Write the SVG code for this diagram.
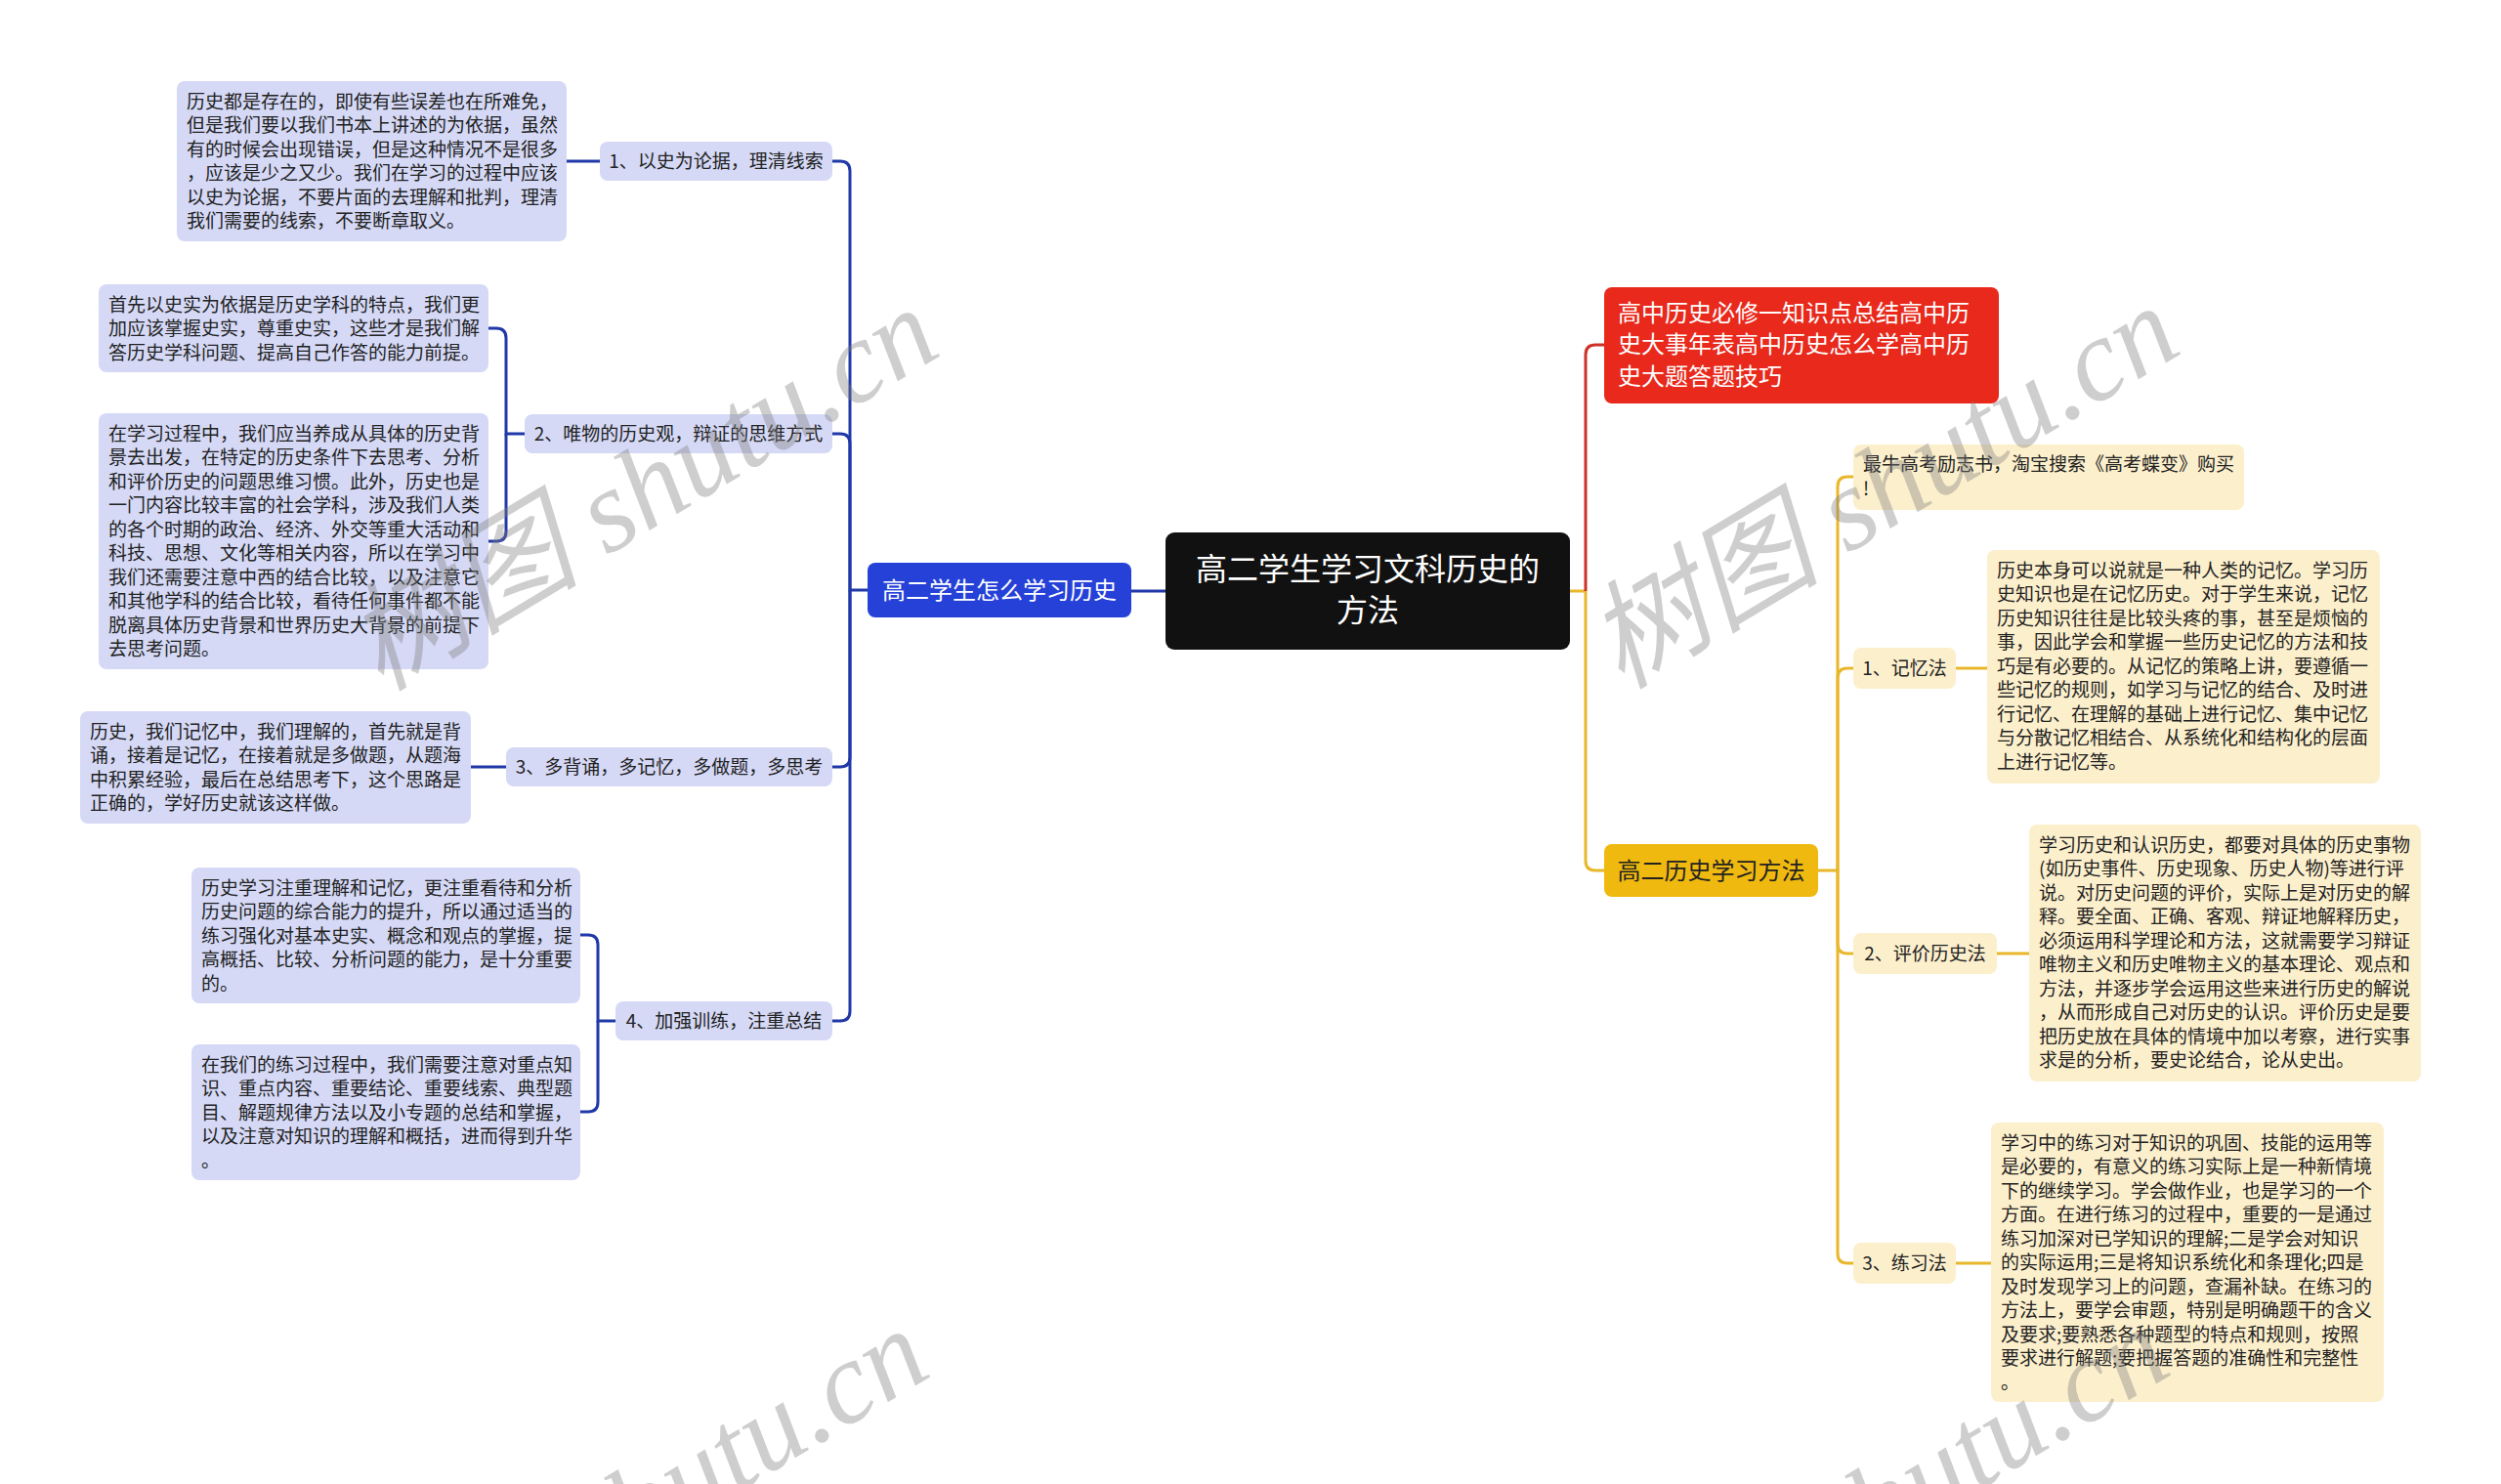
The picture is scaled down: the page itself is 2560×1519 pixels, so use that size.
<svg xmlns="http://www.w3.org/2000/svg" width="2560" height="1519" viewBox="0 0 2560 1519">
<style>
text{font-family:"Noto Sans CJK SC","Noto Sans",sans-serif;}
.lv{fill:#d5d9f6;}
.cr{fill:#fcefcc;}
.t19{font-size:19px;fill:#222;}
.mid{text-anchor:middle;}
.bl{fill:none;stroke:#2038a8;stroke-width:3;}
.yl{fill:none;stroke:#e9b72b;stroke-width:3;}
.rd{fill:none;stroke:#cc3226;stroke-width:3;}
.wm{font-family:"Liberation Serif","Noto Sans CJK SC",serif;font-style:italic;font-size:120px;fill:#808080;opacity:0.38;text-anchor:middle;}
</style>
<rect width="2560" height="1519" fill="#ffffff"/>

<g id="connectors">
  <path class="bl" d="M1193,605 H1158"/>
  <path class="bl" d="M888,604 H870 V175 Q870,165 860,165 H852"/>
  <path class="bl" d="M870,604 V454 Q870,444 860,444 H852"/>
  <path class="bl" d="M870,604 V775 Q870,785 860,785 H852"/>
  <path class="bl" d="M870,604 V1035 Q870,1045 860,1045 H852"/>
  <path class="bl" d="M614,165 H580"/>
  <path class="bl" d="M537,444 H518 V346 Q518,336 508,336 H500"/>
  <path class="bl" d="M518,444 V544 Q518,554 508,554 H500"/>
  <path class="bl" d="M518,785 H482"/>
  <path class="bl" d="M630,1045 H612 V967 Q612,957 602,957 H594"/>
  <path class="bl" d="M612,1045 V1128 Q612,1138 602,1138 H594"/>
  <path class="yl" d="M1607,605 H1623"/>
  <path class="rd" d="M1623,605 V363 Q1623,353 1633,353 H1642"/>
  <path class="yl" d="M1623,605 V881 Q1623,891 1633,891 H1642"/>
  <path class="yl" d="M1861,891 H1881 V498 Q1881,488 1891,488 H1897"/>
  <path class="yl" d="M1881,891 V694 Q1881,684 1891,684 H1897"/>
  <path class="yl" d="M1881,891 V966 Q1881,976 1891,976 H1897"/>
  <path class="yl" d="M1881,891 V1283 Q1881,1293 1891,1293 H1897"/>
  <path class="yl" d="M2002,684 H2034"/>
  <path class="yl" d="M2044,976 H2077"/>
  <path class="yl" d="M2002,1293 H2038"/>
</g>

<g id="central">
  <rect x="1193" y="545" width="414" height="120" rx="9" fill="#111111"/>
  <text x="1400" y="594" class="mid" font-size="32" fill="#ffffff">高二学生学习文科历史的</text>
  <text x="1400" y="636" class="mid" font-size="32" fill="#ffffff">方法</text>
</g>

<g id="branch-left">
  <rect x="888" y="576" width="270" height="56" rx="8" fill="#2541d8"/>
  <text x="1023" y="612.5" class="mid" font-size="24" fill="#ffffff">高二学生怎么学习历史</text>
</g>

<g id="sub-l1">
  <rect class="lv" x="614" y="145" width="238" height="40" rx="8"/>
  <text x="733" y="172" class="t19 mid">1、以史为论据，理清线索</text>
</g>
<g id="sub-l2">
  <rect class="lv" x="537" y="424" width="315" height="40" rx="8"/>
  <text x="694.5" y="451" class="t19 mid">2、唯物的历史观，辩证的思维方式</text>
</g>
<g id="sub-l3">
  <rect class="lv" x="518" y="765" width="334" height="40" rx="8"/>
  <text x="685" y="792" class="t19 mid">3、多背诵，多记忆，多做题，多思考</text>
</g>
<g id="sub-l4">
  <rect class="lv" x="630" y="1025" width="222" height="40" rx="8"/>
  <text x="741" y="1052" class="t19 mid">4、加强训练，注重总结</text>
</g>

<g id="leaf-l1">
  <rect class="lv" x="181" y="83" width="399" height="164" rx="8"/>
  <text class="t19" x="191" y="110.5">
    <tspan x="191">历史都是存在的，即使有些误差也在所难免，</tspan>
    <tspan x="191" dy="24.5">但是我们要以我们书本上讲述的为依据，虽然</tspan>
    <tspan x="191" dy="24.5">有的时候会出现错误，但是这种情况不是很多</tspan>
    <tspan x="191" dy="24.5">，应该是少之又少。我们在学习的过程中应该</tspan>
    <tspan x="191" dy="24.5">以史为论据，不要片面的去理解和批判，理清</tspan>
    <tspan x="191" dy="24.5">我们需要的线索，不要断章取义。</tspan>
  </text>
</g>
<g id="leaf-l2a">
  <rect class="lv" x="101" y="291" width="399" height="90" rx="8"/>
  <text class="t19" x="111" y="318.5">
    <tspan x="111">首先以史实为依据是历史学科的特点，我们更</tspan>
    <tspan x="111" dy="24.5">加应该掌握史实，尊重史实，这些才是我们解</tspan>
    <tspan x="111" dy="24.5">答历史学科问题、提高自己作答的能力前提。</tspan>
  </text>
</g>
<g id="leaf-l2b">
  <rect class="lv" x="101" y="423" width="399" height="262" rx="8"/>
  <text class="t19" x="111" y="450.5">
    <tspan x="111">在学习过程中，我们应当养成从具体的历史背</tspan>
    <tspan x="111" dy="24.5">景去出发，在特定的历史条件下去思考、分析</tspan>
    <tspan x="111" dy="24.5">和评价历史的问题思维习惯。此外，历史也是</tspan>
    <tspan x="111" dy="24.5">一门内容比较丰富的社会学科，涉及我们人类</tspan>
    <tspan x="111" dy="24.5">的各个时期的政治、经济、外交等重大活动和</tspan>
    <tspan x="111" dy="24.5">科技、思想、文化等相关内容，所以在学习中</tspan>
    <tspan x="111" dy="24.5">我们还需要注意中西的结合比较，以及注意它</tspan>
    <tspan x="111" dy="24.5">和其他学科的结合比较，看待任何事件都不能</tspan>
    <tspan x="111" dy="24.5">脱离具体历史背景和世界历史大背景的前提下</tspan>
    <tspan x="111" dy="24.5">去思考问题。</tspan>
  </text>
</g>
<g id="leaf-l3">
  <rect class="lv" x="82" y="728" width="400" height="115" rx="8"/>
  <text class="t19" x="92" y="755.5">
    <tspan x="92">历史，我们记忆中，我们理解的，首先就是背</tspan>
    <tspan x="92" dy="24.5">诵，接着是记忆，在接着就是多做题，从题海</tspan>
    <tspan x="92" dy="24.5">中积累经验，最后在总结思考下，这个思路是</tspan>
    <tspan x="92" dy="24.5">正确的，学好历史就该这样做。</tspan>
  </text>
</g>
<g id="leaf-l4a">
  <rect class="lv" x="196" y="888" width="398" height="139" rx="8"/>
  <text class="t19" x="206" y="915.5">
    <tspan x="206">历史学习注重理解和记忆，更注重看待和分析</tspan>
    <tspan x="206" dy="24.5">历史问题的综合能力的提升，所以通过适当的</tspan>
    <tspan x="206" dy="24.5">练习强化对基本史实、概念和观点的掌握，提</tspan>
    <tspan x="206" dy="24.5">高概括、比较、分析问题的能力，是十分重要</tspan>
    <tspan x="206" dy="24.5">的。</tspan>
  </text>
</g>
<g id="leaf-l4b">
  <rect class="lv" x="196" y="1069" width="398" height="139" rx="8"/>
  <text class="t19" x="206" y="1096.5">
    <tspan x="206">在我们的练习过程中，我们需要注意对重点知</tspan>
    <tspan x="206" dy="24.5">识、重点内容、重要结论、重要线索、典型题</tspan>
    <tspan x="206" dy="24.5">目、解题规律方法以及小专题的总结和掌握，</tspan>
    <tspan x="206" dy="24.5">以及注意对知识的理解和概括，进而得到升华</tspan>
    <tspan x="206" dy="24.5">。</tspan>
  </text>
</g>

<g id="branch-red">
  <rect x="1642" y="294" width="404" height="119" rx="8" fill="#e8291c"/>
  <text x="1656" y="328.5" font-size="24" fill="#ffffff">
    <tspan x="1656">高中历史必修一知识点总结高中历</tspan>
    <tspan x="1656" dy="32.5">史大事年表高中历史怎么学高中历</tspan>
    <tspan x="1656" dy="32.5">史大题答题技巧</tspan>
  </text>
</g>

<g id="branch-yellow">
  <rect x="1642" y="864" width="219" height="54" rx="8" fill="#f0b90f"/>
  <text x="1751.5" y="899.5" class="mid" font-size="24" fill="#222">高二历史学习方法</text>
</g>

<g id="tip">
  <rect class="cr" x="1897" y="455" width="400" height="67" rx="8"/>
  <text class="t19" x="1907" y="482">
    <tspan x="1907">最牛高考励志书，淘宝搜索《高考蝶变》购买</tspan>
    <tspan x="1907" dy="24.5">!</tspan>
  </text>
</g>

<g id="sub-r1">
  <rect class="cr" x="1897" y="663" width="105" height="42" rx="8"/>
  <text x="1949.5" y="691" class="t19 mid">1、记忆法</text>
</g>
<g id="sub-r2">
  <rect class="cr" x="1897" y="955" width="147" height="42" rx="8"/>
  <text x="1970.5" y="983" class="t19 mid">2、评价历史法</text>
</g>
<g id="sub-r3">
  <rect class="cr" x="1897" y="1272" width="105" height="42" rx="8"/>
  <text x="1949.5" y="1300" class="t19 mid">3、练习法</text>
</g>

<g id="leaf-r1">
  <rect class="cr" x="2034" y="563" width="402" height="239" rx="8"/>
  <text class="t19" x="2044" y="590.5">
    <tspan x="2044">历史本身可以说就是一种人类的记忆。学习历</tspan>
    <tspan x="2044" dy="24.5">史知识也是在记忆历史。对于学生来说，记忆</tspan>
    <tspan x="2044" dy="24.5">历史知识往往是比较头疼的事，甚至是烦恼的</tspan>
    <tspan x="2044" dy="24.5">事，因此学会和掌握一些历史记忆的方法和技</tspan>
    <tspan x="2044" dy="24.5">巧是有必要的。从记忆的策略上讲，要遵循一</tspan>
    <tspan x="2044" dy="24.5">些记忆的规则，如学习与记忆的结合、及时进</tspan>
    <tspan x="2044" dy="24.5">行记忆、在理解的基础上进行记忆、集中记忆</tspan>
    <tspan x="2044" dy="24.5">与分散记忆相结合、从系统化和结构化的层面</tspan>
    <tspan x="2044" dy="24.5">上进行记忆等。</tspan>
  </text>
</g>
<g id="leaf-r2">
  <rect class="cr" x="2077" y="844" width="401" height="263" rx="8"/>
  <text class="t19" x="2087" y="871.5">
    <tspan x="2087">学习历史和认识历史，都要对具体的历史事物</tspan>
    <tspan x="2087" dy="24.5">(如历史事件、历史现象、历史人物)等进行评</tspan>
    <tspan x="2087" dy="24.5">说。对历史问题的评价，实际上是对历史的解</tspan>
    <tspan x="2087" dy="24.5">释。要全面、正确、客观、辩证地解释历史，</tspan>
    <tspan x="2087" dy="24.5">必须运用科学理论和方法，这就需要学习辩证</tspan>
    <tspan x="2087" dy="24.5">唯物主义和历史唯物主义的基本理论、观点和</tspan>
    <tspan x="2087" dy="24.5">方法，并逐步学会运用这些来进行历史的解说</tspan>
    <tspan x="2087" dy="24.5">，从而形成自己对历史的认识。评价历史是要</tspan>
    <tspan x="2087" dy="24.5">把历史放在具体的情境中加以考察，进行实事</tspan>
    <tspan x="2087" dy="24.5">求是的分析，要史论结合，论从史出。</tspan>
  </text>
</g>
<g id="leaf-r3">
  <rect class="cr" x="2038" y="1149" width="402" height="286" rx="8"/>
  <text class="t19" x="2048" y="1176.5">
    <tspan x="2048">学习中的练习对于知识的巩固、技能的运用等</tspan>
    <tspan x="2048" dy="24.5">是必要的，有意义的练习实际上是一种新情境</tspan>
    <tspan x="2048" dy="24.5">下的继续学习。学会做作业，也是学习的一个</tspan>
    <tspan x="2048" dy="24.5">方面。在进行练习的过程中，重要的一是通过</tspan>
    <tspan x="2048" dy="24.5">练习加深对已学知识的理解;二是学会对知识</tspan>
    <tspan x="2048" dy="24.5">的实际运用;三是将知识系统化和条理化;四是</tspan>
    <tspan x="2048" dy="24.5">及时发现学习上的问题，查漏补缺。在练习的</tspan>
    <tspan x="2048" dy="24.5">方法上，要学会审题，特别是明确题干的含义</tspan>
    <tspan x="2048" dy="24.5">及要求;要熟悉各种题型的特点和规则，按照</tspan>
    <tspan x="2048" dy="24.5">要求进行解题;要把握答题的准确性和完整性</tspan>
    <tspan x="2048" dy="24.5">。</tspan>
  </text>
</g>

<g id="watermarks">
  <text class="wm" x="660" y="540" transform="rotate(-31 660 505)">树图 shutu.cn</text>
  <text class="wm" x="1930" y="538" transform="rotate(-31 1930 503)">树图 shutu.cn</text>
  <text class="wm" x="650" y="1585" transform="rotate(-31 650 1550)">树图 shutu.cn</text>
  <text class="wm" x="1920" y="1583" transform="rotate(-31 1920 1548)">树图 shutu.cn</text>
</g>
</svg>
